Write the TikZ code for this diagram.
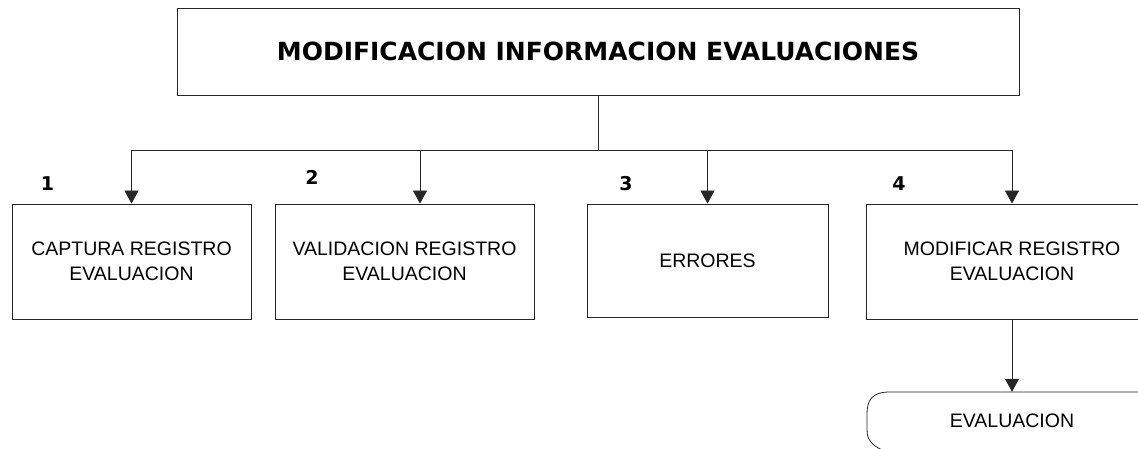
\documentclass[tikz,border=0pt]{standalone}
\usepackage{fontspec}
\setmainfont{Liberation Sans}
\newfontfamily\boldfam{DejaVu Sans}
\usetikzlibrary{arrows.meta}
\begin{document}
\begin{tikzpicture}[x=1pt,y=-1pt,
  boxstyle/.style={draw=black!85,line width=0.8pt,align=center,inner sep=0pt,font=\fontsize{19.5}{25}\selectfont},
  numstyle/.style={font=\boldfam\bfseries\fontsize{19}{22}\selectfont,inner sep=0pt},
  linestyle/.style={draw=black!85,line width=0.8pt},
  arr/.style={linestyle,-{Triangle[length=13pt,width=14pt]}}]
\useasboundingbox (0,0) rectangle (1138,449);
\clip (0,0) rectangle (1138,449);
\node[boxstyle,minimum width=842pt,minimum height=87pt,font=\boldfam\bfseries\fontsize{25}{29}\selectfont] (top) at (598,51.5) {MODIFICACION INFORMACION EVALUACIONES};
\node[boxstyle,minimum width=239pt,minimum height=115pt] (b1) at (131.5,261.5) {CAPTURA REGISTRO\\EVALUACION};
\node[boxstyle,minimum width=259pt,minimum height=115pt] (b2) at (404.5,261.5) {VALIDACION REGISTRO\\EVALUACION};
\node[boxstyle,minimum width=241pt,minimum height=113pt] (b3) at (707.5,260.5) {ERRORES};
\node[boxstyle,minimum width=292pt,minimum height=115pt] (b4) at (1012,261.5) {MODIFICAR REGISTRO\\EVALUACION};
\node[numstyle] (n1) at (47.5,184) {1};
\node[numstyle] (n2) at (312,177) {2};
\node[numstyle] (n3) at (626,184) {3};
\node[numstyle] (n4) at (899,184) {4};
\node[font=\fontsize{19.5}{25}\selectfont,minimum height=58pt,minimum width=100pt,inner sep=0pt] (ev) at (1012,421) {EVALUACION};
\draw[linestyle] (1160,392) -- (890,392) .. controls (872,392) and (867,400) .. (867,414) -- (867,430) .. controls (867,440) and (872,445) .. (882,450);
\coordinate (bus) at (598,150);
\coordinate (d1) at (b1.north |- bus);
\coordinate (d2) at (420,150);
\coordinate (d3) at (b3.north |- bus);
\coordinate (d4) at (b4.north |- bus);
\draw[linestyle] (top.south) -- (bus);
\draw[linestyle] (d1) -- (d4);
\draw[arr] (d1) -- (b1.north);
\draw[arr] (d2) -- (d2 |- b2.north);
\draw[arr] (d3) -- (b3.north);
\draw[arr] (d4) -- (b4.north);
\draw[arr] (b4.south) -- (ev.north);
\end{tikzpicture}
\end{document}
